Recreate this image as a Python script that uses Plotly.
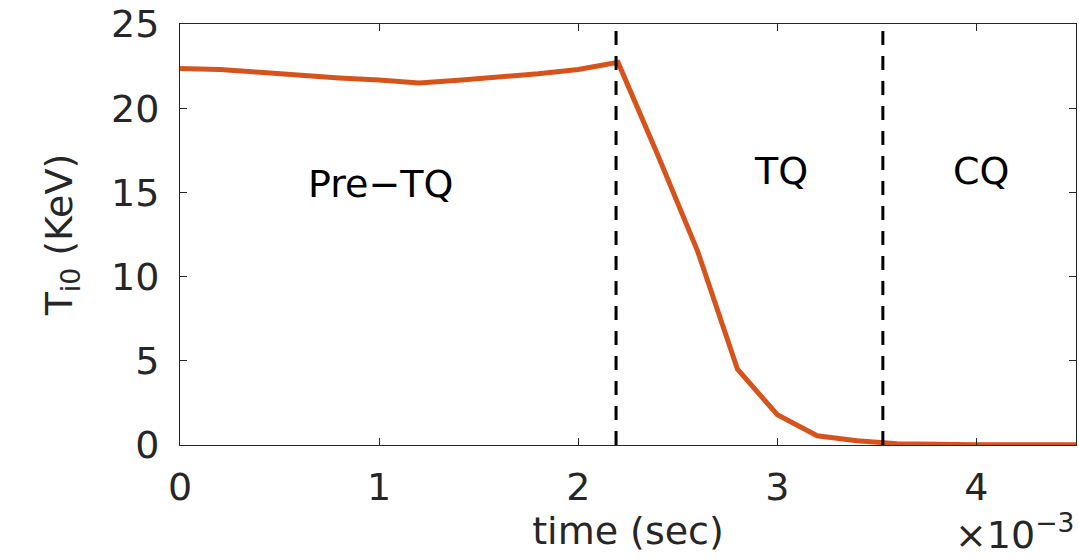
import plotly.graph_objects as go

# Central ion temperature during the disruption (time in units of 1e-3 s)
time_ms = [0.0, 0.2, 0.4, 0.6, 0.8, 1.0, 1.2, 1.4, 1.6, 1.8, 2.0, 2.2,
           2.4, 2.6, 2.8, 3.0, 3.2, 3.4, 3.6, 3.8, 4.0, 4.2, 4.4, 4.5]
ti0_kev = [22.36, 22.3, 22.13, 21.95, 21.8, 21.67, 21.5, 21.66, 21.82, 22.05, 22.3, 22.72,
           17.2, 11.5, 4.5, 1.8, 0.55, 0.25, 0.08, 0.03, 0.02, 0.01, 0.01, 0.01]

# Phase boundaries (1e-3 s)
phase_bounds = [2.19, 3.53]

# Phase labels and their positions
phase_names = ["Pre−TQ", "TQ", "CQ"]
phase_x = [1.005, 3.02, 4.025]
phase_y = [15.5, 16.3, 16.3]

x_ticks = [0, 1, 2, 3, 4]
y_ticks = [0, 5, 10, 15, 20, 25]

FONT = "DejaVu Sans"
INK = "#262626"
FS = 38

fig = go.Figure()

fig.add_trace(go.Scatter(
    x=time_ms, y=ti0_kev, mode="lines",
    line=dict(color="#D6531B", width=5),
    showlegend=False, hoverinfo="skip",
))

for xb in phase_bounds:
    fig.add_trace(go.Scatter(
        x=[xb, xb], y=[0, 25], mode="lines",
        line=dict(color="black", width=3, dash="14px,11px"),
        showlegend=False, hoverinfo="skip",
    ))

for name, px, py in zip(phase_names, phase_x, phase_y):
    fig.add_annotation(x=px, y=py, text=name, showarrow=False,
                       xanchor="center", yanchor="middle",
                       font=dict(family=FONT, size=FS, color="black"))

# Exponent of the time axis
fig.add_annotation(x=1.0, y=0, xref="paper", yref="paper", yshift=-114,
                   text="×10<sup>−3</sup>", showarrow=False,
                   xanchor="right", yanchor="bottom",
                   font=dict(family=FONT, size=FS, color=INK))

axis_common = dict(
    showline=True, linecolor=INK, linewidth=1, mirror="ticks",
    ticks="inside", ticklen=7, tickwidth=1, tickcolor=INK,
    showgrid=False, zeroline=False,
    tickfont=dict(family=FONT, size=FS, color=INK),
)

fig.update_xaxes(
    range=[0, 4.5], tickvals=x_ticks, ticktext=[str(v) for v in x_ticks],
    title=dict(text="time (sec)", font=dict(family=FONT, size=FS, color=INK), standoff=8),
    ticklabelstandoff=8,
    **axis_common,
)
fig.update_yaxes(
    range=[0, 25], tickvals=y_ticks, ticktext=[str(v) for v in y_ticks],
    title=dict(text="T<sub>i0</sub> (KeV)", font=dict(family=FONT, size=FS, color=INK), standoff=26),
    ticklabelstandoff=12,
    **axis_common,
)

fig.update_layout(
    width=1079, height=559,
    margin=dict(l=180, r=2, t=22, b=114),
    plot_bgcolor="white", paper_bgcolor="white",
    font=dict(family=FONT, color=INK),
)

fig.write_html("out.html")
